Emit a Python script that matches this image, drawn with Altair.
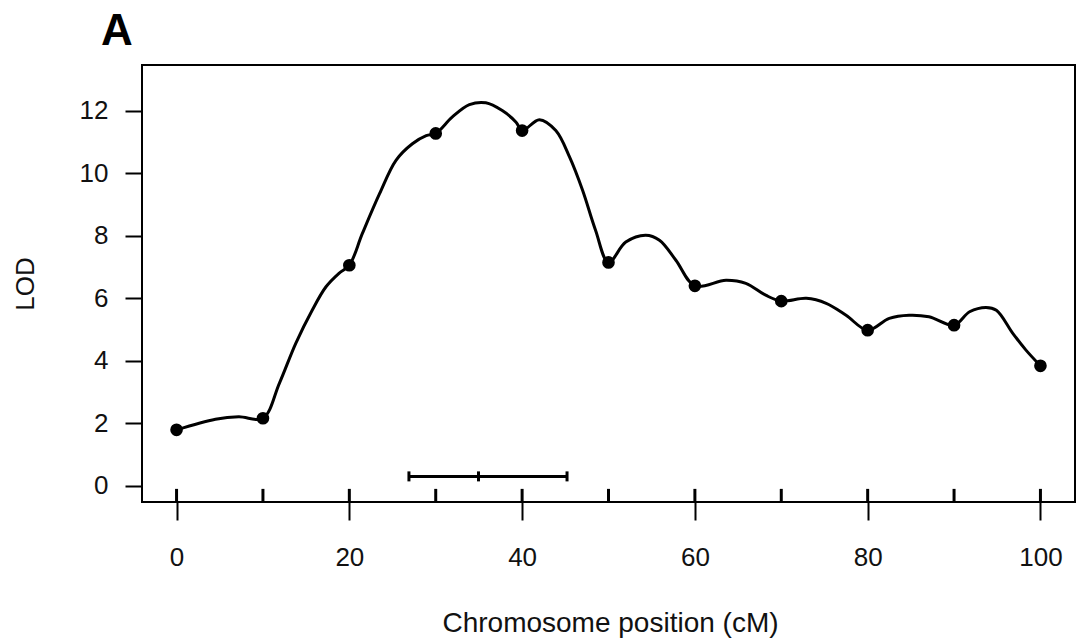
import altair as alt
import pandas as pd

# Marker positions (cM) and LOD at markers
marker_pos = [0, 10, 20, 30, 40, 50, 60, 70, 80, 90, 100]
marker_lod = [1.79, 2.16, 7.06, 11.28, 11.37, 7.15, 6.40, 5.91, 4.98, 5.14, 3.84]

# LOD profile curve
curve_pos = [0, 4.5, 7.2, 10, 11.9, 13.8, 15.7, 17.3, 18.8, 20,
             21.5, 23.5, 25.4, 27.3, 28.9, 30, 31.9, 33.9, 35.8, 37.7,
             39.3, 40, 42.0, 43.9, 45.5, 47.0, 48.5, 50, 52.0, 54.3,
             55.9, 57.8, 60, 63.6, 65.9, 68.2, 70, 72.9, 75.2, 77.5,
             80, 82.5, 84.8, 87.1, 90, 91.8, 93.7, 94.9, 96.8, 98.3, 100]
curve_lod = [1.79, 2.13, 2.21, 2.16, 3.28, 4.56, 5.62, 6.37, 6.80, 7.06,
             8.07, 9.35, 10.42, 10.95, 11.21, 11.28, 11.80, 12.20, 12.26, 12.01,
             11.64, 11.37, 11.72, 11.37, 10.52, 9.46, 8.18, 7.15, 7.80, 8.02,
             7.86, 7.22, 6.40, 6.58, 6.48, 6.10, 5.91, 6.00, 5.84, 5.46,
             4.98, 5.36, 5.46, 5.41, 5.14, 5.57, 5.71, 5.62, 4.88, 4.35, 3.84]

# Confidence interval bar
ci_left, ci_peak, ci_right = 26.9, 34.95, 45.2
ci_lod = 0.30
ci_cap_lo, ci_cap_hi = 0.14, 0.46

# Marker rug (bottom of plot)
rug_lo, rug_hi = -0.52, -0.10

x_ticks = [0, 20, 40, 60, 80, 100]
y_ticks = [0, 2, 4, 6, 8, 10, 12]

panel_label = ["A"]

FONT = "Liberation Sans"

curve_df = pd.DataFrame({"pos": curve_pos, "lod": curve_lod})
marker_df = pd.DataFrame({"pos": marker_pos, "lod": marker_lod,
                          "lo": [rug_lo] * len(marker_pos),
                          "hi": [rug_hi] * len(marker_pos)})
ci_df = pd.DataFrame({"x1": [ci_left], "x2": [ci_right], "lod": [ci_lod]})
cap_df = pd.DataFrame({"pos": [ci_left, ci_peak, ci_right],
                       "lo": [ci_cap_lo] * 3, "hi": [ci_cap_hi] * 3})
label_df = pd.DataFrame({"label": panel_label})

xscale = alt.Scale(domain=[-4, 104], nice=False, zero=False)
yscale = alt.Scale(domain=[-0.52, 13.47], nice=False, zero=False)

xaxis = alt.Axis(values=x_ticks, title="Chromosome position (cM)", grid=False,
                 domain=False, tickSize=18, tickWidth=2, tickColor="black",
                 labelFontSize=26, labelPadding=24, labelFont=FONT, labelColor="#111111",
                 titleFont=FONT, titleFontSize=28, titleFontWeight="normal",
                 titleColor="#111111", titleX=468, titleY=129,
                 titleBaseline="alphabetic", titleAlign="center")
yaxis = alt.Axis(values=y_ticks, title="LOD", grid=False, domain=False,
                 tickSize=17, tickWidth=2, tickColor="black",
                 labelFontSize=26, labelPadding=17, labelFont=FONT, labelColor="#111111",
                 titleFont=FONT, titleFontSize=26, titleFontWeight="normal",
                 titleColor="#111111", titleX=-117, titleY=218.5, titleAngle=270,
                 titleBaseline="middle", titleAlign="center")

line = alt.Chart(curve_df).mark_line(color="black", strokeWidth=3,
                                     interpolate="catmull-rom").encode(
    x=alt.X("pos:Q", scale=xscale, axis=xaxis),
    y=alt.Y("lod:Q", scale=yscale, axis=yaxis),
)

points = alt.Chart(marker_df).mark_point(filled=True, shape="circle", size=160,
                                         color="black", opacity=1).encode(
    x=alt.X("pos:Q", scale=xscale),
    y=alt.Y("lod:Q", scale=yscale),
)

rug = alt.Chart(marker_df).mark_rule(color="black", strokeWidth=3).encode(
    x=alt.X("pos:Q", scale=xscale),
    y=alt.Y("lo:Q", scale=yscale),
    y2="hi:Q",
)

ci = alt.Chart(ci_df).mark_rule(color="black", strokeWidth=3).encode(
    x=alt.X("x1:Q", scale=xscale),
    x2="x2:Q",
    y=alt.Y("lod:Q", scale=yscale),
)

caps = alt.Chart(cap_df).mark_rule(color="black", strokeWidth=3).encode(
    x=alt.X("pos:Q", scale=xscale),
    y=alt.Y("lo:Q", scale=yscale),
    y2="hi:Q",
)

label = alt.Chart(label_df).mark_text(font=FONT, fontSize=44, fontWeight="bold",
                                      color="black", align="center",
                                      baseline="alphabetic", clip=False).encode(
    text="label:N",
    x=alt.value(-25),
    y=alt.value(-20),
)

chart = alt.layer(rug, ci, caps, line, points, label).properties(
    width=933,
    height=437,
    padding={"left": 142, "top": 65, "right": 1, "bottom": 142},
    autosize=alt.AutoSizeParams(type="none"),
    background="white",
).configure_view(stroke="black", strokeWidth=2)

chart.save("out.html", embed_options={"renderer": "svg", "actions": False})
